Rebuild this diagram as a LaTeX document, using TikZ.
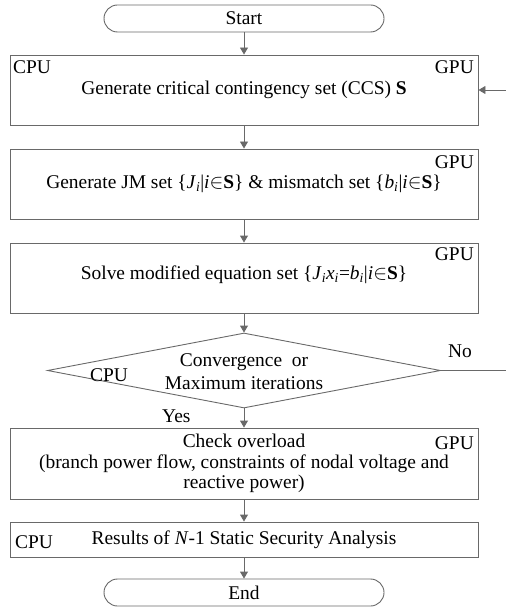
\documentclass[tikz,border=0pt]{standalone}
\usepackage{fontspec}
\setmainfont{Liberation Serif}
\usetikzlibrary{shapes.geometric,arrows.meta}
\definecolor{edge}{RGB}{105,105,105}
% italic symbol with italic subscript
\newcommand{\isub}[2]{\textit{#1}\textsubscript{\textit{#2}}}
\begin{document}
\begin{tikzpicture}[x=1bp,y=-1bp,
  font=\fontsize{19.5}{21}\selectfont,
  term/.style={draw=edge, line width=0.9bp, rounded corners=13.5bp,
    minimum width=280bp, minimum height=27bp, inner sep=0},
  procbox/.style={draw=edge, line width=0.9bp, minimum width=468bp,
    minimum height=#1, inner sep=0, align=center},
  decision/.style={diamond, draw=edge, line width=0.9bp,
    minimum width=393bp, minimum height=75bp, inner sep=0},
  tag/.style={inner sep=0},
  flow/.style={draw=edge, line width=0.9bp, -{Triangle[length=7bp,width=8bp]}},
  plain/.style={draw=edge, line width=0.9bp}]
\useasboundingbox (0,0) rectangle (506,608);

% process chain
\node[term] (start) at (244,18.5) {Start};
\node[procbox=70bp] (ccs) at (244,90) {Generate critical contingency set (CCS) \textbf{S}};
\node[procbox=70bp] (jm) at (244,184)
  {Generate JM set \{\isub{J}{i}|\textit{i}$\in$\textbf{S}\} \& mismatch set \{\isub{b}{i}|\textit{i}$\in$\textbf{S}\}};
\node[procbox=70bp] (solve) at (244,278) {};
\node[tag] (solvetxt) at (244,275)
  {Solve modified equation set \{\isub{J}{i}\isub{x}{i}=\isub{b}{i}|\textit{i}$\in$\textbf{S}\}};
\node[decision] (conv) at (244,370.5) {};
\node[tag, align=center, font=\fontsize{19.5}{23}\selectfont] (convtxt) at (244,372)
  {Convergence~ or\\Maximum iterations};
\node[procbox=71bp, font=\fontsize{19.5}{20.5}\selectfont] (check) at (244,463.5)
  {Check overload\\(branch power flow, constraints of nodal voltage and\\reactive power)};
\node[procbox=35bp] (res) at (244,539.5) {Results of \textit{N}-1 Static Security Analysis};
\node[term] (end) at (244,592.5) {End};

% processor tags
\node[tag, anchor=north west] (c1) at (13,60) {CPU};
\node[tag, anchor=north east] (g1) at (474,60) {GPU};
\node[tag, anchor=north east] (g2) at (474,155) {GPU};
\node[tag, anchor=north east] (g3) at (474,247) {GPU};
\node[tag, anchor=north west] (c4) at (90,368) {CPU};
\node[tag, anchor=north east] (g5) at (474,436) {GPU};
\node[tag, anchor=north west] (c6) at (15,535) {CPU};

% branch labels
\node[tag, anchor=north west] (no) at (448,345) {No};
\node[tag, anchor=north west] (yes) at (162,410) {Yes};

% connectors
\coordinate (back) at (506,90);
\coordinate (out) at (506,370.5);
\draw[flow] (start.south) -- (ccs.north);
\draw[flow] (ccs.south) -- (jm.north);
\draw[flow] (jm.south) -- (solve.north);
\draw[flow] (solve.south) -- (conv.north);
\draw[flow] (conv.south) -- (check.north);
\draw[flow] (check.south) -- (res.north);
\draw[flow] (res.south) -- (end.north);
\draw[flow] (back) -- (ccs.east);
\draw[plain] (conv.east) -- (out);
\end{tikzpicture}
\end{document}
